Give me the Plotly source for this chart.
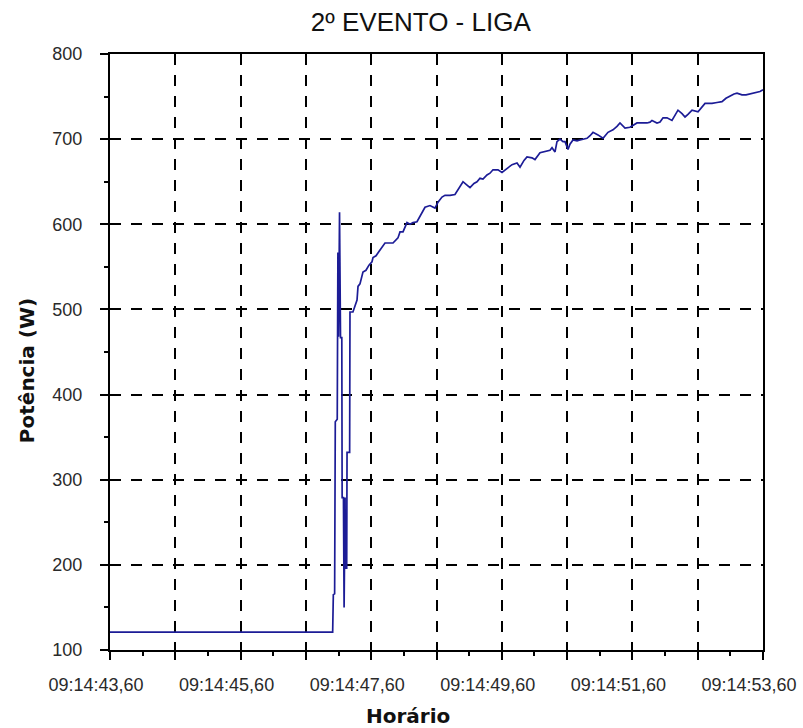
import plotly.graph_objects as go

# Power reading around the switch-on event; time is seconds after 09:14:43,60
tempo_s = [
    0.00, 3.41, 3.42, 3.44, 3.45, 3.48, 3.49, 3.50, 3.515, 3.53, 3.55, 3.555,
    3.575, 3.585, 3.60, 3.605, 3.625, 3.63, 3.67, 3.675, 3.72,
    3.752, 3.783, 3.798, 3.828, 3.874, 3.920, 3.966, 4.012, 4.028, 4.074,
    4.119, 4.181, 4.211, 4.273, 4.334, 4.410, 4.441, 4.487, 4.548, 4.594,
    4.640, 4.701, 4.747, 4.778, 4.824, 4.900, 4.977, 5.023, 5.084, 5.130,
    5.207, 5.283, 5.360, 5.406, 5.467, 5.513, 5.574, 5.620, 5.666, 5.712,
    5.773, 5.819, 5.865, 5.942, 6.003, 6.080, 6.156, 6.233, 6.279, 6.340,
    6.386, 6.462, 6.508, 6.585, 6.646, 6.692, 6.738, 6.769, 6.815, 6.845,
    6.891, 6.937, 6.968, 7.014, 7.044, 7.090, 7.152, 7.198, 7.259, 7.305,
    7.351, 7.397, 7.473, 7.550, 7.626, 7.703, 7.764, 7.810, 7.887, 7.963,
    8.025, 8.070, 8.147, 8.224, 8.270, 8.300, 8.377, 8.423, 8.469, 8.530,
    8.606, 8.652, 8.698, 8.760, 8.806, 8.851, 8.913, 9.005, 9.051, 9.112,
    9.158, 9.219, 9.296, 9.372, 9.433, 9.495, 9.556, 9.602, 9.678, 9.740,
    9.801, 9.877, 9.954, 10.00,
]
potencia_w = [
    121, 121, 165, 166, 368, 371, 567, 468, 614, 467, 467, 279,
    279, 150, 279, 196, 196, 332, 332, 497, 497,
    505, 511, 527, 530, 544, 546, 552, 556, 561, 563,
    568, 574, 578, 578, 578, 584, 591, 591, 602, 600,
    602, 603, 610, 613, 620, 622, 619, 626, 632, 634,
    634, 635, 644, 650, 646, 643, 648, 650, 654, 653,
    658, 660, 664, 664, 661, 666, 670, 672, 667, 675,
    679, 678, 676, 684, 685, 686, 687, 690, 685, 697,
    700, 697, 697, 688, 694, 699, 698, 699, 700, 701,
    704, 708, 705, 701, 708, 711, 715, 719, 713, 714,
    717, 719, 719, 719, 720, 722, 719, 720, 725, 725,
    722, 728, 734, 730, 726, 729, 734, 732, 736, 742,
    742, 742, 743, 744, 748, 751, 753, 754, 752, 752,
    753, 755, 756, 758,
]

# Axis ticks: one gridline per second, a label every two seconds
x_ticks = [0, 1, 2, 3, 4, 5, 6, 7, 8, 9, 10]
x_labels = ["09:14:43,60", "", "09:14:45,60", "", "09:14:47,60", "",
            "09:14:49,60", "", "09:14:51,60", "", "09:14:53,60"]
x_minor = [0.5, 1.5, 2.5, 3.5, 4.5, 5.5, 6.5, 7.5, 8.5, 9.5]
y_ticks = [100, 200, 300, 400, 500, 600, 700, 800]

tick_font = dict(family="Liberation Sans, Arial, sans-serif", size=18, color="#2a2a2a")
title_font = dict(family="DejaVu Sans, sans-serif", size=20, color="#111111")

fig = go.Figure()
fig.add_trace(go.Scatter(
    x=tempo_s, y=potencia_w, mode="lines",
    line=dict(color="#1c1c96", width=1.7),
    hoverinfo="skip", showlegend=False,
))

axis_common = dict(
    showline=True, linecolor="black", linewidth=2, mirror=True,
    ticks="outside", tickcolor="black", tickwidth=2, ticklen=8,
    showgrid=True, gridcolor="black", gridwidth=1.8, griddash="11px,10px",
    zeroline=False, tickfont=tick_font, automargin=False,
)

fig.update_xaxes(
    range=[0, 10], tickmode="array", tickvals=x_ticks, ticktext=x_labels,
    ticklabelshift=-14, ticklabelstandoff=9,
    minor=dict(tickmode="array", tickvals=x_minor, ticks="outside",
               ticklen=4, tickwidth=2, tickcolor="black", showgrid=False),
    **axis_common,
)
fig.update_yaxes(
    range=[100, 800], tickmode="array", tickvals=y_ticks,
    ticklabelstandoff=14,
    minor=dict(dtick=50, tick0=0, ticks="outside", ticklen=4, tickwidth=2,
               tickcolor="black", showgrid=False),
    **axis_common,
)

fig.update_layout(
    width=803, height=728,
    margin=dict(l=110, r=40, t=54, b=78, autoexpand=False),
    paper_bgcolor="white", plot_bgcolor="white",
    title=dict(text="2º EVENTO - LIGA", xref="container", yref="container",
               x=0.524, y=1 - 22 / 728, xanchor="center", yanchor="middle",
               font=dict(family="Liberation Sans, Arial, sans-serif", size=26,
                         color="#111111")),
    annotations=[
        dict(text="<b>Horário</b>", xref="paper", yref="paper",
             x=0.456, y=-0.11, xanchor="center", yanchor="middle",
             showarrow=False, font=title_font),
        dict(text="<b>Potência (W)</b>", xref="paper", yref="paper",
             x=-0.127, y=0.468, xanchor="center", yanchor="middle",
             textangle=-90, showarrow=False, font=title_font),
    ],
)

fig.write_html("out.html")
